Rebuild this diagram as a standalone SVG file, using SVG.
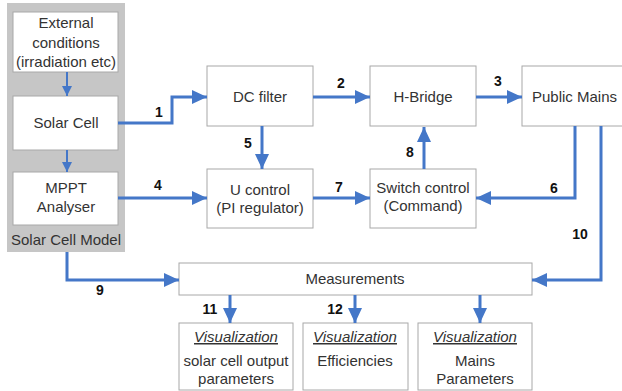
<svg xmlns="http://www.w3.org/2000/svg" width="622" height="391" viewBox="0 0 622 391">
<style>
.box{fill:#fff;stroke:#a8a8a8;stroke-width:1}
.t{font-family:"Liberation Sans",Arial,sans-serif;font-size:15px;fill:#333;text-anchor:middle}
.vis{font-style:italic;text-decoration:underline}
.lbl{font-family:"Liberation Sans",Arial,sans-serif;font-size:14px;font-weight:bold;fill:#111;text-anchor:middle}
.c{fill:none;stroke:#4477c8;stroke-width:3;marker-end:url(#ah)}
.cs{fill:none;stroke:#4477c8;stroke-width:2;marker-end:url(#ahs)}
</style>
<defs>
<marker id="ah" markerUnits="userSpaceOnUse" markerWidth="16" markerHeight="14" refX="15" refY="7" orient="auto">
<path d="M0,0 L15,7 L0,14 Z" fill="#4477c8"/>
</marker>
<marker id="ahs" markerUnits="userSpaceOnUse" markerWidth="11" markerHeight="11" refX="10" refY="5" orient="auto">
<path d="M0,0 L10,5 L0,10 Z" fill="#4477c8"/>
</marker>
</defs>
<rect width="622" height="391" fill="#fff"/>
<g id="solar-cell-model">
<rect x="7" y="3" width="118" height="249" fill="#c6c6c6"/>
<text class="t" x="66" y="245">Solar Cell Model</text>
</g>
<g id="external">
<rect class="box" x="13" y="12" width="105" height="60"/>
<text class="t" x="66" y="28">External</text>
<text class="t" x="66" y="48">conditions</text>
<text class="t" x="66" y="67">(irradiation etc)</text>
</g>
<g id="solar-cell">
<rect class="box" x="13" y="96" width="105" height="54"/>
<text class="t" x="66" y="128">Solar Cell</text>
</g>
<g id="mppt">
<rect class="box" x="13" y="172" width="105" height="53"/>
<text class="t" x="66" y="193">MPPT</text>
<text class="t" x="66" y="212">Analyser</text>
</g>
<g id="dc-filter">
<rect class="box" x="207" y="66" width="106" height="60"/>
<text class="t" x="260" y="102">DC filter</text>
</g>
<g id="h-bridge">
<rect class="box" x="370" y="66" width="106" height="60"/>
<text class="t" x="423" y="102">H-Bridge</text>
</g>
<g id="public-mains">
<rect class="box" x="522" y="66" width="110" height="60"/>
<text class="t" x="532" y="102" style="text-anchor:start">Public Mains</text>
</g>
<g id="u-control">
<rect class="box" x="207" y="169" width="106" height="59"/>
<text class="t" x="260" y="195">U control</text>
<text class="t" x="260" y="213">(PI regulator)</text>
</g>
<g id="switch-control">
<rect class="box" x="370" y="169" width="106" height="59"/>
<text class="t" x="423" y="193">Switch control</text>
<text class="t" x="423" y="211">(Command)</text>
</g>
<g id="measurements">
<rect class="box" x="179" y="263" width="353" height="32"/>
<text class="t" x="355" y="284">Measurements</text>
</g>
<g id="vis-solar">
<rect class="box" x="179" y="323" width="114" height="67"/>
<text class="t vis" x="236" y="342">Visualization</text>
<text class="t" x="236" y="366">solar cell output</text>
<text class="t" x="236" y="384">parameters</text>
</g>
<g id="vis-eff">
<rect class="box" x="303" y="323" width="105" height="67"/>
<text class="t vis" x="355" y="342">Visualization</text>
<text class="t" x="355" y="366">Efficiencies</text>
</g>
<g id="vis-mains">
<rect class="box" x="418" y="323" width="114" height="67"/>
<text class="t vis" x="475" y="342">Visualization</text>
<text class="t" x="475" y="366">Mains</text>
<text class="t" x="475" y="384">Parameters</text>
</g>
<g id="connectors">
<path class="cs" d="M67,72 V96"/>
<path class="cs" d="M67,150 V172"/>
<path class="c" d="M118,123 H172 V97 H207"/>
<path class="c" d="M313,97 H370"/>
<path class="c" d="M476,97 H522"/>
<path class="c" d="M118,198 H207"/>
<path class="c" d="M262,126 V169"/>
<path class="c" d="M575,126 V198 H476"/>
<path class="c" d="M313,198 H370"/>
<path class="c" d="M424,169 V127"/>
<path class="c" d="M67,252 V280 H179"/>
<path class="c" d="M601,126 V280 H532"/>
<path class="c" d="M230,295 V323"/>
<path class="c" d="M355,295 V323"/>
<path class="c" d="M480,295 V323"/>
<text class="lbl" x="159" y="117">1</text>
<text class="lbl" x="341" y="88">2</text>
<text class="lbl" x="498" y="86">3</text>
<text class="lbl" x="158" y="190">4</text>
<text class="lbl" x="248" y="148">5</text>
<text class="lbl" x="554" y="193">6</text>
<text class="lbl" x="339" y="192">7</text>
<text class="lbl" x="410" y="157">8</text>
<text class="lbl" x="100" y="295">9</text>
<text class="lbl" x="580" y="239">10</text>
<text class="lbl" x="210" y="314">11</text>
<text class="lbl" x="335" y="314">12</text>
</g>
</svg>
